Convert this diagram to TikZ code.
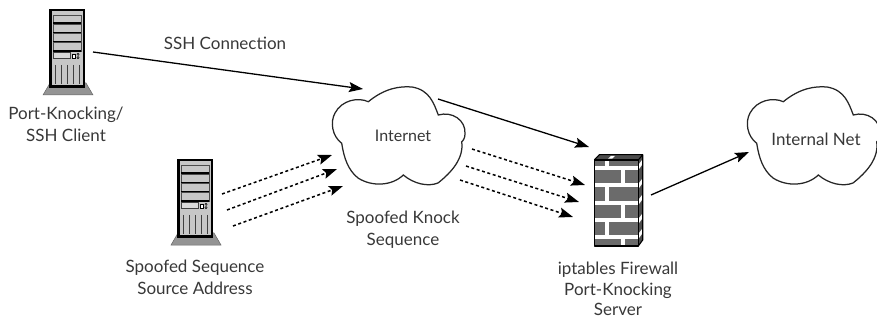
\documentclass[tikz,border=0pt]{standalone}
\usepackage{fontspec}
\setmainfont{Lato}
\usetikzlibrary{arrows.meta}
\definecolor{txt}{gray}{0.22}
\definecolor{srv}{gray}{0.78}
\definecolor{brick}{gray}{0.42}
\tikzset{
 x=1pt,y=-1pt,
 lbl/.style={text=txt,font=\fontsize{17}{22}\selectfont,align=center,inner sep=0pt},
 conn/.style={line width=1.3pt,black,-{Stealth[length=14pt,width=10pt,inset=2.5pt]}},
 dot/.style={line width=1.5pt,black,dash pattern=on 3pt off 2.6pt,-{Stealth[length=14pt,width=10pt,inset=2.5pt]}},
 cloudline/.style={line width=1.25pt,draw=black!85,fill=white},
 pics/server/.style={code={
  \draw[black!60,fill=black!42,line width=.5pt] (-6,86) -- (1,74) -- (37,74) -- (44,86) -- cycle;
  \fill[black] (0,0) rectangle (36,79);
  \fill[srv] (2.5,2.5) rectangle (33.5,76.5);
  \foreach \a/\b in {6/14,15/24,24/33,33/42}{
   \draw[black!70,line width=.5pt,fill=srv] (4,\a) rectangle (32,\b);
   \draw[black,line width=1.1pt] (4,\b) -- (32,\b);}
  \draw[black!75,line width=.5pt,fill=white!85!black] (4,43.5) rectangle (21,49.5);
  \draw[black,line width=.8pt,fill=white] (23,45.5) rectangle (26.5,49);
  \draw[black,line width=.5pt] (29,45.3) circle (1.1) (29,48.7) circle (1.1);
  \foreach \v in {6,12,18,24,30}{\draw[black!75,line width=.7pt] (\v,56) -- (\v,75.5);}
 }},
 pics/cloudshape/.style={code={
  \draw[cloudline] (368.3,101.7)
   .. controls (385,88) and (400,86) .. (412,87)
   .. controls (430,90) and (434,104) .. (438.3,115)
   .. controls (452,111) and (466,120) .. (465,134)
   .. controls (465,138) and (463,141) .. (461.7,141.7)
   .. controls (464,158) and (452,172) .. (438,183)
   .. controls (428,187) and (414,184) .. (403.3,175)
   .. controls (392,186) and (372,187) .. (358,178)
   .. controls (348,170) and (344,158) .. (341.7,143.3)
   .. controls (332,136) and (330,122) .. (335,113)
   .. controls (342,100) and (358,97) .. (368.3,101.7) -- cycle;
 }}
}
\begin{document}
\begin{tikzpicture}
\useasboundingbox (0,0) rectangle (877,320);
\clip (0,0) rectangle (877,320);
\pic at (49,9) {server};
\pic at (177,159) {server};
\pic at (0,0) {cloudshape};
\pic at (415,0) {cloudshape};
% firewall
\fill[black!70] (594.3,160) -- (599.3,154.7) -- (642.7,154.7) -- (642.7,240) -- (638.3,246) -- cycle;
\fill[brick] (594.3,160) rectangle (638.3,246);
\foreach \yy in {168,185,203,220,237}{\fill[white] (594.3,\yy-1.6) rectangle (638.3,\yy+1.6);}
\foreach \xx/\ya/\yb in {607/160/168,623/168/185,607/185/203,623/203/220,607/220/237,623/237/246}{\fill[white] (\xx-1.7,\ya) rectangle (\xx+1.7,\yb);}
\fill[white] (608,158.7) -- (611,156) -- (615,156) -- (612,158.7) -- cycle;
\foreach \yy in {168,203,237}{\fill[white] (638.3,\yy-3) -- (642,\yy-8) -- (642,\yy-3) -- (638.3,\yy+2) -- cycle;}
\foreach \yy in {185,220}{\fill[white] (638.3,\yy-1) -- (642,\yy-6) -- (642,\yy-1) -- (638.3,\yy+4) -- cycle;}
\draw[black,line width=1.1pt,line join=round] (594.3,160) rectangle (638.3,246);
\draw[black,line width=1.1pt,line join=round] (594.3,160) -- (599.3,154.7) -- (642.7,154.7) -- (638.3,160) (642.7,154.7) -- (642.7,240) -- (638.3,246);
% labels
\node[lbl] (ssh) at (225,43.5) {SSH Connection};
\node[lbl] (client) at (66,124.5) {Port-Knocking/\\SSH Client};
\node[lbl,font=\fontsize{16}{22}\selectfont] (inet) at (403,136) {Internet};
\node[lbl] (knock) at (403,230) {Spoofed Knock\\Sequence};
\node[lbl] (src) at (195,277.5) {Spoofed Sequence\\Source Address};
\node[lbl,font=\fontsize{17}{20.5}\selectfont] (fw) at (618,289) {iptables Firewall\\Port-Knocking\\Server};
\node[lbl] (net) at (816,139) {Internal Net};
% connector ends
\coordinate (a1) at (93,52); \coordinate (a2) at (363,89);
\coordinate (b1) at (438,99); \coordinate (b2) at (589,147);
\coordinate (c1) at (651,195); \coordinate (c2) at (749,152);
\coordinate (d1) at (222,194); \coordinate (d2) at (332,155);
\coordinate (e1) at (227,210); \coordinate (e2) at (337,169);
\coordinate (f1) at (233,226); \coordinate (f2) at (343,186);
\coordinate (g1) at (472,149); \coordinate (g2) at (585,185);
\coordinate (h1) at (466,166); \coordinate (h2) at (579,202);
\coordinate (i1) at (460,180); \coordinate (i2) at (573,217);
\draw[conn] (a1) -- (a2);
\draw[conn] (b1) -- (b2);
\draw[conn] (c1) -- (c2);
\foreach \p/\q in {d1/d2,e1/e2,f1/f2,g1/g2,h1/h2,i1/i2}{\draw[dot] (\p) -- (\q);}
\end{tikzpicture}
\end{document}
